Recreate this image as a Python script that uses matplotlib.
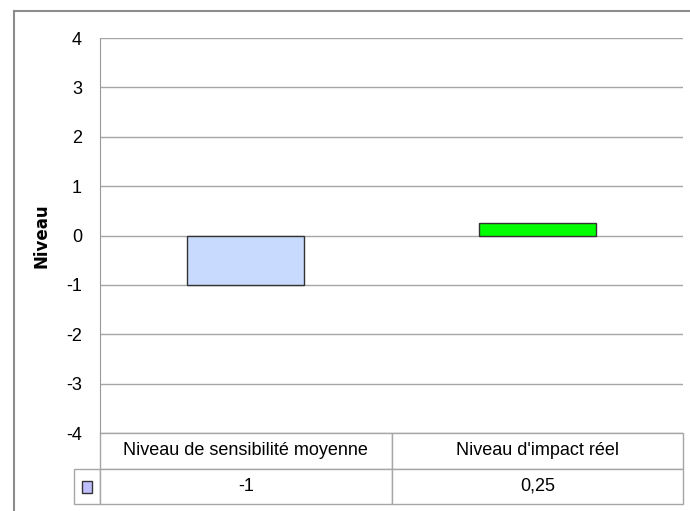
import matplotlib
matplotlib.use('Agg')
import matplotlib.pyplot as plt
from matplotlib.lines import Line2D
from matplotlib.patches import Rectangle

categories = ['Niveau de sensibilité moyenne', "Niveau d'impact réel"]
values = [-1, 0.25]
value_labels = ['-1', '0,25']
bar_colors = ['#C9DAFF', '#00FF00']
key_color = '#BFBFFF'
y_ticks = [-4, -3, -2, -1, 0, 1, 2, 3, 4]

plt.rcParams['font.family'] = ['Liberation Sans', 'DejaVu Sans']

W, H = 690, 511
fig = plt.figure(figsize=(W / 100, H / 100), dpi=100)

# outer chart frame (left and top edges only visible)
fig.add_artist(Line2D([14 / W, 14 / W], [0, 1 - 11 / H], transform=fig.transFigure,
                      color='#8c8c8c', lw=1.5))
fig.add_artist(Line2D([14 / W, 1], [1 - 11 / H, 1 - 11 / H], transform=fig.transFigure,
                      color='#8c8c8c', lw=1.5))

left, right, top, bottom = 100, 683, 38, 433
ax = fig.add_axes([left / W, 1 - bottom / H, (right - left) / W, (bottom - top) / H])

x = list(range(len(categories)))
ax.bar(x, values, width=0.4, color=bar_colors, edgecolor='#333333', linewidth=1, zorder=3)
ax.set_xlim(-0.5, len(categories) - 0.5)
ax.set_ylim(-4, 4)
ax.set_yticks(y_ticks)
ax.set_yticklabels([str(t) for t in y_ticks], fontsize=13)
ax.tick_params(axis='y', length=0, pad=13)
ax.set_xticks([])
ax.grid(axis='y', color='#a6a6a6', lw=1, zorder=0)
for s in ['top', 'right', 'bottom']:
    ax.spines[s].set_visible(False)
ax.spines['left'].set_color('#999999')
ax.set_ylabel('Niveau', fontsize=12, fontweight='bold', family='DejaVu Sans', labelpad=11)

# data table under the plot
key_w = left - 74
col_w = (right - left) / len(categories)
widths = [key_w] + [col_w] * len(categories)
tot = sum(widths)
tbl_h = 504 - bottom
tbl = ax.table(cellText=[[''] + categories, [''] + value_labels],
               colWidths=[w / tot for w in widths], cellLoc='center',
               bbox=[(74 - left) / (right - left), -tbl_h / (bottom - top),
                     tot / (right - left), tbl_h / (bottom - top)])
tbl.auto_set_font_size(False)
for (r, c), cell in tbl.get_celld().items():
    cell.set_edgecolor('#a6a6a6')
    cell.set_linewidth(1)
    cell.get_text().set_fontsize(13)
    if r == 0 and c == 0:
        cell.visible_edges = ''

# legend key in the table
kx = (87 - left) / (right - left)
ky = (bottom - 486.5) / (bottom - top)
kw = 10 / (right - left)
kh = 12 / (bottom - top)
ax.add_patch(Rectangle((kx - kw / 2, ky - kh / 2), kw, kh, transform=ax.transAxes,
                       facecolor=key_color, edgecolor='#333333', lw=1, clip_on=False))

fig.savefig('out.png', dpi=100)
